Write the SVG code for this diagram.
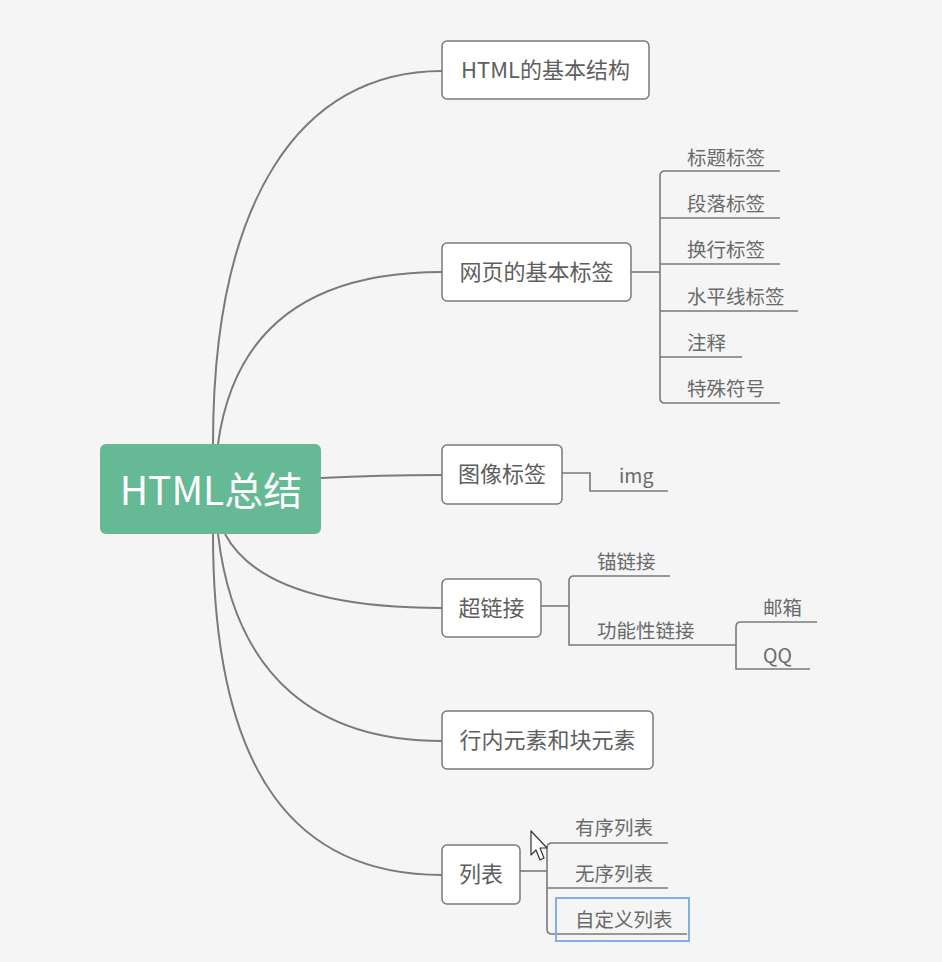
<svg xmlns="http://www.w3.org/2000/svg" width="942" height="962" viewBox="0 0 942 962">
<style>
.bg{fill:#f5f5f5}
.box{fill:#ffffff;stroke:#7a7a7a;stroke-width:1.5}
.bt{font-family:"Noto Sans CJK SC","Noto Sans",sans-serif;font-size:22px;fill:#5e5e5e}
.st{font-family:"Noto Sans CJK SC","Noto Sans",sans-serif;font-size:19.5px;fill:#6a6a6a}
.c{fill:none;stroke:#7a7a7a;stroke-width:2}
.s{fill:none;stroke:#7a7a7a;stroke-width:1.6}
</style>
<rect class="bg" x="0" y="0" width="942" height="962"/>
<g id="connectors">
<path class="c" d="M213,444 C213,200 300,71 442,71"/>
<path class="c" d="M218,444 C235,320 320,272 442,272"/>
<path class="c" d="M321,478 C360,476 400,475 442,475"/>
<path class="c" d="M225,534 C255,590 340,608 442,608"/>
<path class="c" d="M218,534 C235,680 320,741 442,741"/>
<path class="c" d="M213,534 C213,780 300,875 442,875"/>
<path class="s" d="M631,272 H660"/>
<path class="s" d="M780,171 H665 Q660,171 660,176 V398 Q660,403 665,403 H780"/>
<path class="s" d="M660,218 H780 M660,264 H780 M660,311 H798 M660,357 H742"/>
<path class="s" d="M562,473 H590 V491 H668"/>
<path class="s" d="M541,606 H569"/>
<path class="s" d="M670,576 H574 Q569,576 569,581 V645 H736"/>
<path class="s" d="M817,622 H741 Q736,622 736,627 V669 H810"/>
<path class="s" d="M518,871 H547"/>
<path class="s" d="M668,843 H552 Q547,843 547,848 V929 Q547,934 552,934 H687"/>
<path class="s" d="M547,888 H668"/>
</g>
<g id="root">
<rect x="100" y="444" width="221" height="90" rx="6" fill="#66b995"/>
<text x="211" y="505" text-anchor="middle" font-family="'Noto Sans CJK SC','Noto Sans',sans-serif" font-size="39" fill="#ffffff">HTML总结</text>
</g>
<g id="n1"><rect class="box" x="442" y="41" width="207" height="58" rx="5"/><text class="bt" x="545.5" y="78" text-anchor="middle">HTML的基本结构</text></g>
<g id="n2"><rect class="box" x="442" y="243" width="189" height="58" rx="5"/><text class="bt" x="536.5" y="280" text-anchor="middle">网页的基本标签</text></g>
<g id="n3"><rect class="box" x="442" y="445" width="120" height="59" rx="5"/><text class="bt" x="502" y="482" text-anchor="middle">图像标签</text></g>
<g id="n4"><rect class="box" x="442" y="579" width="99" height="58" rx="5"/><text class="bt" x="491.5" y="616" text-anchor="middle">超链接</text></g>
<g id="n5"><rect class="box" x="442" y="711" width="211" height="58" rx="5"/><text class="bt" x="547.5" y="748" text-anchor="middle">行内元素和块元素</text></g>
<g id="n6"><rect class="box" x="442" y="845" width="78" height="59" rx="5"/><text class="bt" x="481" y="882" text-anchor="middle">列表</text></g>
<g id="n2a"><text class="st" x="687" y="165">标题标签</text></g>
<g id="n2b"><text class="st" x="687" y="211">段落标签</text></g>
<g id="n2c"><text class="st" x="687" y="257">换行标签</text></g>
<g id="n2d"><text class="st" x="687" y="304">水平线标签</text></g>
<g id="n2e"><text class="st" x="687" y="350">注释</text></g>
<g id="n2f"><text class="st" x="687" y="396">特殊符号</text></g>
<g id="n3a"><text class="st" x="619" y="483">img</text></g>
<g id="n4a"><text class="st" x="597" y="569">锚链接</text></g>
<g id="n4b"><text class="st" x="597" y="638">功能性链接</text></g>
<g id="n4b1"><text class="st" x="763" y="615">邮箱</text></g>
<g id="n4b2"><text class="st" x="763" y="663">QQ</text></g>
<g id="n6a"><text class="st" x="575" y="835">有序列表</text></g>
<g id="n6b"><text class="st" x="575" y="881">无序列表</text></g>
<g id="n6c"><rect x="556" y="898" width="133" height="43" fill="none" stroke="#86aee6" stroke-width="2"/><text class="st" x="575" y="927">自定义列表</text></g>
<path d="M531,831 L531,855 L536,850 L540,860 L544,858 L540,848 L547,848 Z" fill="#ffffff" stroke="#333" stroke-width="1.2" stroke-linejoin="round"/>
</svg>
